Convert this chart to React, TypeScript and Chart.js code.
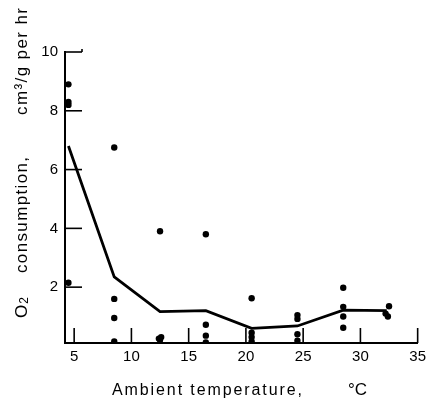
import React, { useEffect, useRef } from "react";
import { Chart, registerables } from "chart.js";

Chart.register(...registerables);

// Individual measurements: ambient temperature (°C) and O2 consumption (cm³/g per hr)
const scatterX = [
  4.5, 4.5, 4.5, 4.5,
  8.5, 8.5, 8.5, 8.5,
  12.4, 12.5, 12.6, 12.5,
  16.5, 16.5, 16.5, 16.5,
  20.5, 20.5, 20.5, 20.5,
  24.5, 24.5, 24.5, 24.5,
  28.5, 28.5, 28.5, 28.5,
  32.5, 32.2, 32.4,
];
const scatterY = [
  8.9, 8.3, 8.2, 2.15,
  6.75, 1.6, 0.95, 0.15,
  0.25, 3.9, 0.3, 0.2,
  3.8, 0.72, 0.35, 0.12,
  1.62, 0.45, 0.3, 0.15,
  1.05, 0.92, 0.4, 0.18,
  1.98, 1.33, 1.0, 0.62,
  1.35, 1.1, 1.0,
];

// Mean line
const meanX = [4.5, 8.5, 12.5, 16.5, 20.5, 24.5, 28.5, 32.3];
const meanY = [6.8, 2.35, 1.17, 1.2, 0.6, 0.68, 1.22, 1.2];

const xTicks = [5, 10, 15, 20, 25, 30, 35];
const yTicks = [2, 4, 6, 8, 10];

const xTitle = "Ambient temperature,";
const xUnit = "°C";
const yTitleMain = "O";
const yTitleSub = "2";
const yTitleMid = "consumption,";
const yTitleUnit = "cm³/g per hr";

const FONT = '"Liberation Sans", Arial, sans-serif';

function drawSpaced(ctx: CanvasRenderingContext2D, text: string, x: number, y: number, target: number) {
  const chars = Array.from(text);
  const widths = chars.map((c) => ctx.measureText(c).width);
  const sum = widths.reduce((a, b) => a + b, 0);
  const ls = chars.length > 1 ? (target - sum) / (chars.length - 1) : 0;
  let cx = x;
  chars.forEach((c, i) => {
    ctx.fillText(c, cx, y);
    cx += widths[i] + ls;
  });
}

const decor = {
  id: "decor",
  afterDraw(chart: any) {
    const { ctx, chartArea: a, scales } = chart;
    const x = scales.x;
    const y = scales.y;
    ctx.save();
    ctx.strokeStyle = "#000";
    ctx.lineWidth = 1.6;
    yTicks.forEach((v) => {
      const py = y.getPixelForValue(v);
      ctx.beginPath();
      ctx.moveTo(a.left, py);
      ctx.lineTo(a.left + 17, py);
      ctx.stroke();
    });
    xTicks.forEach((v) => {
      const px = x.getPixelForValue(v);
      ctx.beginPath();
      ctx.moveTo(px, a.bottom);
      ctx.lineTo(px, a.bottom - 15);
      ctx.stroke();
    });
    const pTop = y.getPixelForValue(10);
    ctx.beginPath();
    ctx.moveTo(a.left + 17, pTop);
    ctx.lineTo(a.left + 17, pTop - 3);
    ctx.stroke();

    ctx.fillStyle = "#000";
    ctx.textAlign = "left";
    ctx.textBaseline = "alphabetic";
    ctx.font = `16px ${FONT}`;
    drawSpaced(ctx, xTitle, 112, 395, 190);
    ctx.font = `17px ${FONT}`;
    ctx.fillText(xUnit, 348, 395);

    ctx.translate(27, 0);
    ctx.rotate(-Math.PI / 2);
    ctx.font = `17px ${FONT}`;
    ctx.fillText(yTitleMain, -318, 0);
    const ow = ctx.measureText(yTitleMain).width;
    ctx.font = `12px ${FONT}`;
    ctx.fillText(yTitleSub, -318 + ow + 1, 1);
    ctx.font = `17px ${FONT}`;
    drawSpaced(ctx, yTitleMid, -273, 0, 116);
    drawSpaced(ctx, yTitleUnit, -115, 0, 107);
    ctx.restore();
  },
};

export default function App() {
  const ref = useRef<HTMLCanvasElement>(null);
  useEffect(() => {
    if (!ref.current) return;
    const chart = new Chart(ref.current, {
      type: "scatter",
      data: {
        datasets: [
          {
            type: "line",
            data: meanX.map((v, i) => ({ x: v, y: meanY[i] })),
            borderColor: "#000",
            borderWidth: 2.8,
            pointRadius: 0,
            tension: 0,
            fill: false,
          } as any,
          {
            type: "scatter",
            data: scatterX.map((v, i) => ({ x: v, y: scatterY[i] })),
            backgroundColor: "#000",
            borderColor: "#000",
            pointRadius: 3.2,
            borderWidth: 0,
          },
        ],
      },
      options: {
        responsive: false,
        animation: false,
        layout: { padding: { top: 52, right: 11, left: 0, bottom: 0 } },
        plugins: { legend: { display: false }, tooltip: { enabled: false } },
        scales: {
          x: {
            type: "linear",
            min: 4.2,
            max: 35,
            afterFit: (s: any) => {
              s.height = 55;
            },
            afterBuildTicks: (s: any) => {
              s.ticks = xTicks.map((v) => ({ value: v }));
            },
            grid: { display: false, drawTicks: false },
            border: { display: true, color: "#000", width: 2 },
            ticks: {
              color: "#000",
              font: { family: FONT, size: 15 },
              padding: 5,
              maxRotation: 0,
              autoSkip: false,
            },
          },
          y: {
            type: "linear",
            min: 0.1,
            max: 10,
            afterFit: (s: any) => {
              s.width = 65;
            },
            afterBuildTicks: (s: any) => {
              s.ticks = yTicks.map((v) => ({ value: v }));
            },
            grid: { display: false, drawTicks: false },
            border: { display: true, color: "#000", width: 2 },
            ticks: {
              color: "#000",
              font: { family: FONT, size: 15 },
              padding: 7,
              autoSkip: false,
            },
          },
        },
      },
      plugins: [decor],
    });
    return () => chart.destroy();
  }, []);
  return (
    <div style={{ position: "fixed", left: 0, top: 0, width: 431, height: 398, background: "#fff" }}>
      <canvas ref={ref} width={431} height={398} style={{ display: "block" }} />
    </div>
  );
}
